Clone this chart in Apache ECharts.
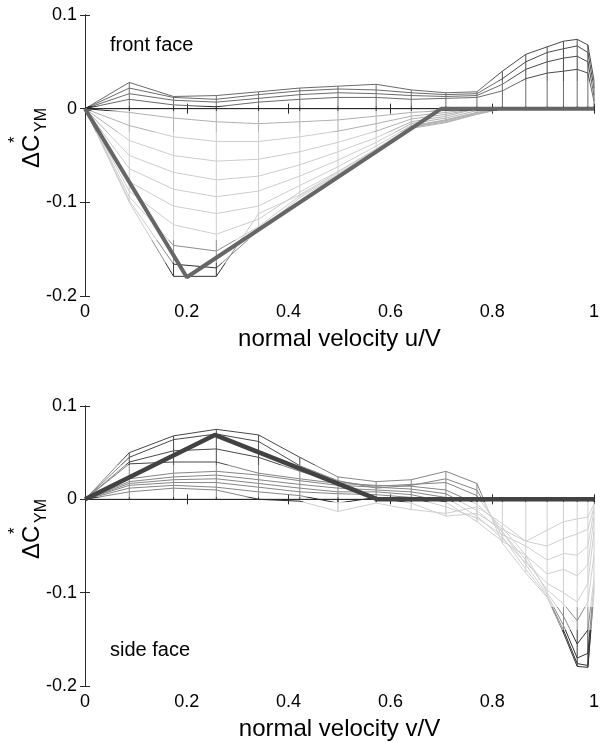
<!DOCTYPE html>
<html>
<head>
<meta charset="utf-8">
<script src="https://cdn.jsdelivr.net/npm/echarts@6/dist/echarts.min.js"></script>
<style>
html,body{margin:0;padding:0;background:#fff;}
#chart{width:602px;height:742px;}
</style>
</head>
<body>
<div id="chart"></div>
<script>
// shared x grid of the mesh (normal velocity)
const xGrid = [0, 0.087, 0.174, 0.258, 0.341, 0.422, 0.497, 0.572, 0.641, 0.709, 0.77, 0.82, 0.866, 0.908, 0.94, 0.967, 0.988, 1];

// front face mesh rows
const frontU1 = [0, 0.028, 0.013, 0.014, 0.018, 0.022, 0.024, 0.026, 0.020, 0.017, 0.018, 0.040, 0.058, 0.066, 0.072, 0.074, 0.068, 0.030];
const frontU2 = [0, 0.022, 0.012, 0.010, 0.015, 0.019, 0.021, 0.020, 0.017, 0.015, 0.016, 0.032, 0.050, 0.060, 0.064, 0.067, 0.060, 0.022];
const frontU3 = [0, 0.016, 0.009, 0.007, 0.011, 0.015, 0.017, 0.016, 0.014, 0.013, 0.014, 0.026, 0.042, 0.050, 0.054, 0.056, 0.050, 0.014];
const frontU4 = [0, 0.010, 0.004, 0.002, 0.007, 0.010, 0.012, 0.012, 0.010, 0.011, 0.012, 0.019, 0.032, 0.038, 0.040, 0.042, 0.038, 0.008];
const frontZ0 = [0, 0, 0, 0, 0, 0, 0, 0, 0, 0, 0, 0, 0, 0, 0, 0, 0, 0];
const frontB1 = [0, -0.004, -0.010, -0.014, -0.016, -0.014, -0.012, -0.008, -0.004, -0.002, 0, 0, 0, 0, 0, 0, 0, 0];
const frontB2 = [0, -0.018, -0.030, -0.035, -0.035, -0.030, -0.024, -0.016, -0.008, -0.004, 0, 0, 0, 0, 0, 0, 0, 0];
const frontB3 = [0, -0.034, -0.050, -0.056, -0.054, -0.046, -0.036, -0.024, -0.011, -0.006, 0, 0, 0, 0, 0, 0, 0, 0];
const frontB4 = [0, -0.050, -0.068, -0.076, -0.072, -0.060, -0.046, -0.031, -0.014, -0.008, 0, 0, 0, 0, 0, 0, 0, 0];
const frontB5 = [0, -0.064, -0.086, -0.094, -0.088, -0.072, -0.055, -0.036, -0.016, -0.010, -0.002, 0, 0, 0, 0, 0, 0, 0];
const frontB6 = [0, -0.078, -0.104, -0.112, -0.104, -0.082, -0.062, -0.040, -0.018, -0.012, -0.004, 0, 0, 0, 0, 0, 0, 0];
const frontB7 = [0, -0.088, -0.124, -0.134, -0.118, -0.089, -0.067, -0.043, -0.019, -0.013, -0.005, 0, 0, 0, 0, 0, 0, 0];
const frontB8 = [0, -0.094, -0.146, -0.152, -0.126, -0.093, -0.070, -0.044, -0.020, -0.014, -0.006, 0, 0, 0, 0, 0, 0, 0];
const frontB9 = [0, -0.098, -0.166, -0.170, -0.130, -0.095, -0.071, -0.045, -0.021, -0.015, -0.006, 0, 0, 0, 0, 0, 0, 0];
const frontB10 = [0, -0.100, -0.179, -0.179, -0.112, -0.092, -0.068, -0.043, -0.020, -0.012, -0.004, 0, 0, 0, 0, 0, 0, 0];

// side face mesh rows
const sideZ0 = [0, 0, 0, 0, 0, 0, 0, 0, 0, 0, 0, 0, 0, 0, 0, 0, 0, 0];
const sideS1 = [0, 0.008, 0.012, 0.010, 0.000, -0.002, -0.013, -0.004, -0.011, -0.015, -0.008, -0.026, -0.045, -0.033, -0.024, -0.021, -0.019, -0.005];
const sideS2 = [0, 0.012, 0.015, 0.013, 0.008, 0.004, -0.004, 0.002, -0.004, -0.018, -0.015, -0.032, -0.045, -0.050, -0.042, -0.037, -0.032, -0.008];
const sideS3 = [0, 0.015, 0.018, 0.018, 0.013, 0.008, 0.006, 0.005, 0.002, -0.008, -0.020, -0.038, -0.050, -0.065, -0.058, -0.060, -0.050, -0.012];
const sideS4 = [0, 0.017, 0.021, 0.022, 0.017, 0.012, 0.008, 0.008, 0.005, -0.003, -0.024, -0.045, -0.060, -0.080, -0.075, -0.082, -0.070, -0.020];
const sideS5 = [0, 0.019, 0.024, 0.026, 0.021, 0.016, 0.012, 0.010, 0.008, 0.002, -0.018, -0.042, -0.068, -0.090, -0.100, -0.110, -0.090, -0.035];
const sideS6 = [0, 0.022, 0.028, 0.030, 0.026, 0.020, 0.015, 0.013, 0.011, 0.006, -0.012, -0.035, -0.065, -0.097, -0.112, -0.130, -0.110, -0.060];
const sideM1 = [0, 0.038, 0.040, 0.040, 0.028, 0.022, 0.017, 0.015, 0.014, 0.010, -0.005, -0.030, -0.060, -0.100, -0.125, -0.155, -0.140, -0.085];
const sideM2 = [0, 0.040, 0.052, 0.054, 0.045, 0.030, 0.019, 0.014, 0.016, 0.018, 0.004, -0.035, -0.070, -0.102, -0.135, -0.170, -0.165, -0.090];
const sideD1 = [0, 0.045, 0.064, 0.070, 0.062, 0.036, 0.020, 0.012, 0.015, 0.022, 0.010, -0.040, -0.075, -0.104, -0.140, -0.176, -0.178, -0.095];
const sideD2 = [0, 0.050, 0.068, 0.075, 0.069, 0.045, 0.024, 0.019, 0.021, 0.030, 0.017, -0.047, -0.079, -0.105, -0.143, -0.179, -0.180, -0.100];

// model (thick) lines
const frontModelX = [0, 0.2, 0.7, 1];
const frontModelY = [0, -0.18, 0, 0];
const sideModelX = [0, 0.255, 0.575, 1];
const sideModelY = [0, 0.069, 0, 0];

// tick values
const xTicks = [0, 0.2, 0.4, 0.6, 0.8, 1];
const yTicks = [-0.2, -0.1, 0, 0.1];

const frontRows = [frontU1, frontU2, frontU3, frontU4, frontZ0, frontB1, frontB2, frontB3, frontB4, frontB5, frontB6, frontB7, frontB8, frontB9, frontB10];
const sideRows = [sideZ0, sideS1, sideS2, sideS3, sideS4, sideS5, sideS6, sideM1, sideM2, sideD1, sideD2];

const FONT = 'Liberation Sans, Arial, Helvetica, sans-serif';

const series = [];
const meshIdx = [[], []];
function addMesh(rows, gi) {
  rows.forEach(function (r) {
    meshIdx[gi].push(series.length);
    series.push({
      type: 'line', xAxisIndex: gi * 2, yAxisIndex: gi * 2, showSymbol: false, silent: true, animation: false,
      lineStyle: { width: 1 }, z: 2,
      data: xGrid.map(function (x, i) { return [x, r[i]]; })
    });
  });
  xGrid.forEach(function (x, i) {
    meshIdx[gi].push(series.length);
    series.push({
      type: 'line', xAxisIndex: gi * 2, yAxisIndex: gi * 2, showSymbol: false, silent: true, animation: false,
      lineStyle: { width: 1 }, z: 2,
      data: rows.map(function (r) { return [x, r[i]]; })
    });
  });
}
addMesh(frontRows, 0);
addMesh(sideRows, 1);
series.push({
  type: 'line', xAxisIndex: 0, yAxisIndex: 0, showSymbol: false, silent: true, animation: false, z: 5,
  lineStyle: { width: 4, color: '#666666' },
  data: frontModelX.map(function (x, i) { return [x, frontModelY[i]]; })
});
series.push({
  type: 'line', xAxisIndex: 2, yAxisIndex: 2, showSymbol: false, silent: true, animation: false, z: 5,
  lineStyle: { width: 4.5, color: '#424242' },
  data: sideModelX.map(function (x, i) { return [x, sideModelY[i]]; })
});

const grids = [
  { left: 85, top: 15, width: 516, height: 281 },
  { left: 85, top: 406, width: 516, height: 280 }
];

const xAxes = [], yAxes = [];
const xNames = ['normal velocity u/V', 'normal velocity v/V'];
[0, 1].forEach(function (gi) {
  const common = {
    gridIndex: gi, type: 'value', min: xTicks[0], max: xTicks[xTicks.length - 1], interval: 0.2,
    splitLine: { show: false },
    axisLine: { show: true, lineStyle: { color: '#2a2a2a', width: 1 } },
    axisTick: { show: true, inside: true, length: 5, lineStyle: { color: '#2a2a2a' } }
  };
  xAxes.push(Object.assign({}, common, {
    position: 'bottom',
    name: xNames[gi], nameLocation: 'middle', nameGap: 31,
    nameTextStyle: { fontSize: 24, color: '#000', fontFamily: FONT },
    axisLabel: { show: true, margin: 7, fontSize: 18, color: '#000', fontFamily: FONT,
      formatter: function (v) { return String(+v.toFixed(1)); } }
  }));
  xAxes.push(Object.assign({}, common, { position: 'top', axisLabel: { show: false } }));
  const ycommon = {
    gridIndex: gi, type: 'value', min: yTicks[0], max: yTicks[yTicks.length - 1], interval: 0.1,
    splitLine: { show: false },
    axisLine: { show: true, lineStyle: { color: '#2a2a2a', width: 1 } },
    axisTick: { show: true, inside: true, length: 5, lineStyle: { color: '#2a2a2a' } }
  };
  yAxes.push(Object.assign({}, ycommon, {
    position: 'left',
    axisLabel: { show: true, margin: 8, fontSize: 18, color: '#000', fontFamily: FONT,
      formatter: function (v) { return String(+v.toFixed(1)); } }
  }));
  yAxes.push(Object.assign({}, ycommon, { position: 'right', axisLabel: { show: false } }));
});

function yTitle(off) {
  return [
    { type: 'text', x: 44, y: 168 + off, rotation: Math.PI / 2, silent: true,
      style: { text: 'ΔC', font: '24px ' + FONT, fill: '#000', textAlign: 'left', textVerticalAlign: 'bottom' } },
    { type: 'text', x: 50, y: 132 + off, rotation: Math.PI / 2, silent: true,
      style: { text: 'YM', font: '16px ' + FONT, fill: '#000', textAlign: 'left', textVerticalAlign: 'bottom' } },
    { type: 'text', x: 7, y: 143 + off, rotation: Math.PI / 2, silent: true,
      style: { text: '*', font: '17px ' + FONT, fill: '#000', textAlign: 'left', textVerticalAlign: 'top' } }
  ];
}

const graphic = [].concat(yTitle(0), yTitle(391), [
  { type: 'text', x: 110, y: 35, silent: true,
    style: { text: 'front face', font: '20px ' + FONT, fill: '#000', textAlign: 'left', textVerticalAlign: 'top' } },
  { type: 'text', x: 110, y: 640, silent: true,
    style: { text: 'side face', font: '20px ' + FONT, fill: '#000', textAlign: 'left', textVerticalAlign: 'top' } }
]);

const chart = echarts.init(document.getElementById('chart'), null, { renderer: 'canvas' });
chart.setOption({
  animation: false,
  backgroundColor: '#ffffff',
  grid: grids,
  xAxis: xAxes,
  yAxis: yAxes,
  visualMap: [
    { type: 'piecewise', show: false, dimension: 1, seriesIndex: meshIdx[0],
      pieces: [
        { gte: 0.03, color: '#4a4a4a' },
        { gte: 0.003, lt: 0.03, color: '#6a6a6a' },
        { gte: -0.003, lt: 0.003, color: '#2a2a2a' },
        { gte: -0.025, lt: -0.003, color: '#b0b0b0' },
        { gte: -0.14, lt: -0.025, color: '#cdcdcd' },
        { gte: -0.165, lt: -0.14, color: '#8c8c8c' },
        { lt: -0.165, color: '#333333' }
      ] },
    { type: 'piecewise', show: false, dimension: 1, seriesIndex: meshIdx[1],
      pieces: [
        { gte: 0.037, color: '#474747' },
        { gte: 0.003, lt: 0.037, color: '#858585' },
        { gte: -0.003, lt: 0.003, color: '#2a2a2a' },
        { gte: -0.115, lt: -0.003, color: '#cfcfcf' },
        { gte: -0.14, lt: -0.115, color: '#8a8a8a' },
        { lt: -0.14, color: '#333333' }
      ] }
  ],
  graphic: graphic,
  series: series
});
</script>
</body>
</html>
